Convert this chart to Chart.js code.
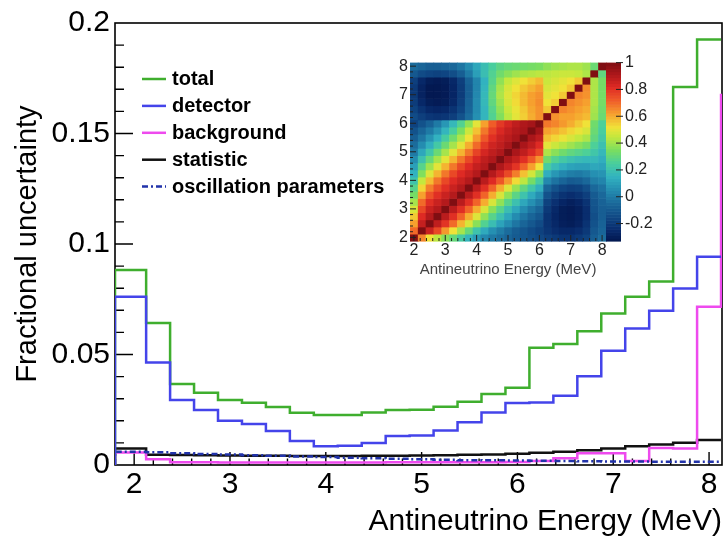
<!DOCTYPE html>
<html><head><meta charset="utf-8">
<script src="https://cdn.jsdelivr.net/npm/chart.js@4.4.1/dist/chart.umd.min.js"></script>
<style>
html,body{margin:0;padding:0;background:#fff;}
#wrap{position:relative;width:724px;height:538px;overflow:hidden;}
#main{position:absolute;left:0;top:0;}
#inset{position:absolute;left:370px;top:34px;}
</style>
</head><body>
<div id="wrap"><canvas id="main" width="724" height="538"></canvas><canvas id="inset" width="290" height="252"></canvas></div>
<script>
// ---------------- data ----------------
const binEdges = [1.8, 2.125, 2.375, 2.625, 2.875, 3.125, 3.375, 3.625, 3.875, 4.125, 4.375, 4.625, 4.875, 5.125, 5.375, 5.625, 5.875, 6.125, 6.375, 6.625, 6.875, 7.125, 7.375, 7.625, 7.875, 8.125];
const totalUnc = [0.0882, 0.0643, 0.0366, 0.0327, 0.0294, 0.0282, 0.0262, 0.0236, 0.0226, 0.0226, 0.0238, 0.0249, 0.0250, 0.0264, 0.0286, 0.0321, 0.0349, 0.0531, 0.0548, 0.0605, 0.0686, 0.0761, 0.0830, 0.1710, 0.1925];
const detectorUnc = [0.0761, 0.0464, 0.0294, 0.0249, 0.0200, 0.0185, 0.0154, 0.0109, 0.0085, 0.0087, 0.0099, 0.0131, 0.0133, 0.0156, 0.0194, 0.0238, 0.0280, 0.0283, 0.0313, 0.0402, 0.0517, 0.0618, 0.0698, 0.0799, 0.0942];
const backgroundUnc = [0.0056, 0.0026, 0.0012, 0.0012, 0.0011, 0.0011, 0.0011, 0.0011, 0.0011, 0.0011, 0.0011, 0.0012, 0.0012, 0.0012, 0.0013, 0.0013, 0.0014, 0.0018, 0.0030, 0.0053, 0.0053, 0.0018, 0.0077, 0.0075, 0.0716];
const backgroundEdgeTop = 0.168;
const statisticUnc = [0.0075, 0.0046, 0.0045, 0.0044, 0.0043, 0.0042, 0.0042, 0.0041, 0.0041, 0.0041, 0.0042, 0.0042, 0.0043, 0.0044, 0.0046, 0.0048, 0.0051, 0.0055, 0.0060, 0.0067, 0.0075, 0.0085, 0.0093, 0.0101, 0.0113];
const oscillationUnc = [0.0060, 0.0058, 0.0053, 0.0050, 0.0047, 0.0044, 0.0042, 0.0039, 0.0036, 0.0033, 0.0031, 0.0028, 0.0026, 0.0024, 0.0022, 0.0021, 0.0020, 0.0019, 0.0018, 0.0017, 0.0016, 0.0016, 0.0015, 0.0015, 0.0015];
const seriesLabels = ['total', 'detector', 'background', 'statistic', 'oscillation parameters'];

const xTickValues = [2, 3, 4, 5, 6, 7, 8];
const yTickValues = [0, 0.05, 0.1, 0.15, 0.2];
const yTickLabels = ['0', '0.05', '0.1', '0.15', '0.2'];

// inset correlation matrix: bin centres and rows (row 0 = lowest energy, bottom)
const matrixCenters = [2.0, 2.25, 2.5, 2.75, 3.0, 3.25, 3.5, 3.75, 4.0, 4.25, 4.5, 4.75, 5.0, 5.25, 5.5, 5.75, 6.0, 6.25, 6.5, 6.75, 7.0, 7.25, 7.5, 7.75, 8.0];
const corrRows = [
 [1.00, 0.66, 0.52, 0.44, 0.37, 0.31, 0.24, 0.16, 0.09, 0.04, 0.00, -0.03, -0.06, -0.09, -0.11, -0.13, -0.15, -0.18, -0.20, -0.22, -0.22, -0.20, -0.17, -0.08, -0.04],
 [0.70, 1.00, 0.86, 0.76, 0.63, 0.52, 0.41, 0.31, 0.21, 0.13, 0.06, 0.01, -0.04, -0.08, -0.11, -0.14, -0.17, -0.21, -0.24, -0.26, -0.26, -0.24, -0.20, -0.10, -0.06],
 [0.62, 0.87, 1.00, 0.88, 0.80, 0.70, 0.59, 0.48, 0.37, 0.27, 0.19, 0.11, 0.05, -0.01, -0.06, -0.10, -0.14, -0.22, -0.26, -0.29, -0.30, -0.28, -0.22, -0.12, -0.07],
 [0.56, 0.82, 0.90, 1.00, 0.89, 0.81, 0.71, 0.60, 0.49, 0.38, 0.28, 0.20, 0.12, 0.05, -0.01, -0.06, -0.10, -0.22, -0.27, -0.30, -0.31, -0.29, -0.24, -0.13, -0.08],
 [0.48, 0.76, 0.86, 0.90, 1.00, 0.89, 0.81, 0.71, 0.60, 0.48, 0.37, 0.28, 0.19, 0.12, 0.05, -0.01, -0.06, -0.20, -0.26, -0.30, -0.31, -0.29, -0.24, -0.12, -0.08],
 [0.41, 0.70, 0.81, 0.86, 0.90, 1.00, 0.89, 0.81, 0.71, 0.60, 0.48, 0.38, 0.28, 0.20, 0.12, 0.06, 0.00, -0.17, -0.23, -0.27, -0.29, -0.27, -0.22, -0.11, -0.07],
 [0.34, 0.62, 0.74, 0.81, 0.86, 0.90, 1.00, 0.89, 0.81, 0.71, 0.60, 0.48, 0.38, 0.29, 0.21, 0.13, 0.06, -0.12, -0.18, -0.22, -0.24, -0.22, -0.18, -0.09, -0.05],
 [0.28, 0.54, 0.67, 0.75, 0.81, 0.86, 0.90, 1.00, 0.89, 0.81, 0.71, 0.60, 0.49, 0.39, 0.30, 0.22, 0.14, -0.06, -0.12, -0.16, -0.18, -0.17, -0.13, -0.05, -0.02],
 [0.21, 0.45, 0.58, 0.68, 0.76, 0.82, 0.86, 0.90, 1.00, 0.89, 0.82, 0.73, 0.63, 0.53, 0.44, 0.34, 0.24, 0.04, -0.02, -0.06, -0.09, -0.08, -0.05, 0.01, 0.03],
 [0.15, 0.36, 0.49, 0.59, 0.68, 0.76, 0.82, 0.86, 0.90, 1.00, 0.90, 0.84, 0.76, 0.67, 0.57, 0.47, 0.37, 0.14, 0.08, 0.04, 0.01, 0.00, 0.02, 0.06, 0.07],
 [0.10, 0.28, 0.40, 0.50, 0.59, 0.68, 0.76, 0.82, 0.87, 0.90, 1.00, 0.91, 0.86, 0.80, 0.71, 0.62, 0.52, 0.24, 0.18, 0.14, 0.11, 0.10, 0.10, 0.12, 0.11],
 [0.05, 0.20, 0.31, 0.41, 0.50, 0.59, 0.68, 0.76, 0.83, 0.88, 0.91, 1.00, 0.91, 0.87, 0.81, 0.73, 0.64, 0.33, 0.27, 0.23, 0.20, 0.18, 0.17, 0.17, 0.14],
 [0.00, 0.12, 0.22, 0.32, 0.41, 0.50, 0.59, 0.68, 0.77, 0.84, 0.88, 0.91, 1.00, 0.92, 0.88, 0.83, 0.76, 0.42, 0.37, 0.33, 0.30, 0.28, 0.26, 0.22, 0.17],
 [-0.04, 0.05, 0.14, 0.23, 0.32, 0.41, 0.50, 0.60, 0.70, 0.79, 0.85, 0.88, 0.92, 1.00, 0.92, 0.88, 0.82, 0.50, 0.46, 0.43, 0.40, 0.37, 0.34, 0.26, 0.20],
 [-0.08, -0.01, 0.07, 0.15, 0.24, 0.33, 0.42, 0.52, 0.63, 0.73, 0.81, 0.86, 0.89, 0.92, 1.00, 0.92, 0.88, 0.57, 0.54, 0.51, 0.48, 0.45, 0.42, 0.30, 0.23],
 [-0.12, -0.06, 0.00, 0.07, 0.16, 0.25, 0.35, 0.46, 0.57, 0.68, 0.77, 0.83, 0.87, 0.90, 0.92, 1.00, 0.93, 0.62, 0.60, 0.57, 0.54, 0.51, 0.48, 0.32, 0.25],
 [-0.17, -0.12, -0.07, 0.00, 0.08, 0.17, 0.27, 0.38, 0.50, 0.62, 0.72, 0.79, 0.84, 0.88, 0.91, 0.93, 1.00, 0.68, 0.66, 0.63, 0.60, 0.56, 0.52, 0.33, 0.26],
 [-0.14, -0.18, -0.21, -0.22, -0.21, -0.18, -0.12, -0.04, 0.06, 0.16, 0.27, 0.36, 0.44, 0.50, 0.55, 0.60, 0.64, 1.00, 0.64, 0.62, 0.62, 0.60, 0.58, 0.40, 0.32],
 [-0.17, -0.22, -0.26, -0.27, -0.26, -0.22, -0.16, -0.06, 0.05, 0.16, 0.28, 0.38, 0.46, 0.51, 0.56, 0.61, 0.64, 0.56, 1.00, 0.66, 0.64, 0.62, 0.60, 0.41, 0.33],
 [-0.19, -0.26, -0.30, -0.31, -0.30, -0.26, -0.18, -0.07, 0.05, 0.17, 0.30, 0.40, 0.48, 0.53, 0.58, 0.62, 0.65, 0.52, 0.55, 1.00, 0.66, 0.64, 0.62, 0.42, 0.34],
 [-0.20, -0.28, -0.32, -0.32, -0.31, -0.27, -0.19, -0.08, 0.04, 0.17, 0.31, 0.42, 0.49, 0.54, 0.58, 0.62, 0.64, 0.50, 0.52, 0.56, 1.00, 0.66, 0.64, 0.42, 0.34],
 [-0.20, -0.28, -0.32, -0.32, -0.31, -0.27, -0.19, -0.08, 0.03, 0.16, 0.30, 0.41, 0.48, 0.52, 0.56, 0.59, 0.62, 0.48, 0.50, 0.52, 0.56, 1.00, 0.65, 0.42, 0.34],
 [-0.18, -0.26, -0.30, -0.31, -0.30, -0.26, -0.18, -0.07, 0.03, 0.15, 0.28, 0.38, 0.45, 0.49, 0.52, 0.55, 0.58, 0.46, 0.48, 0.50, 0.52, 0.56, 1.00, 0.42, 0.34],
 [-0.10, -0.14, -0.16, -0.17, -0.16, -0.13, -0.08, 0.00, 0.10, 0.19, 0.27, 0.33, 0.37, 0.40, 0.42, 0.43, 0.44, 0.44, 0.45, 0.46, 0.46, 0.45, 0.42, 1.00, 0.30],
 [-0.04, -0.06, -0.08, -0.08, -0.07, -0.05, -0.01, 0.05, 0.12, 0.19, 0.25, 0.29, 0.31, 0.32, 0.33, 0.34, 0.35, 0.38, 0.40, 0.41, 0.42, 0.42, 0.40, 0.32, 1.00]
];
const cbTickValues = [-0.2, 0, 0.2, 0.4, 0.6, 0.8, 1];
const cbTickLabels = ['-0.2', '0', '0.2', '0.4', '0.6', '0.8', '1'];
const insetTitle = 'Antineutrino Energy (MeV)';

// ---------------- style ----------------
const FONT = "'Liberation Sans', Arial, Helvetica, sans-serif";
Chart.defaults.font.family = FONT;
Chart.defaults.color = '#000';
const cellHalf = 0.125;
const cbMin = -0.33, cbMax = 1.0;
const cmapStops = [
 [-0.33, [2, 22, 78]], [-0.25, [8, 42, 108]], [-0.15, [16, 72, 132]], [-0.05, [26, 104, 154]],
 [0.05, [36, 140, 176]], [0.15, [50, 178, 192]], [0.25, [72, 206, 158]], [0.35, [122, 222, 96]],
 [0.45, [196, 232, 62]], [0.52, [240, 226, 56]], [0.62, [246, 160, 46]], [0.72, [240, 92, 40]],
 [0.82, [222, 42, 36]], [0.92, [170, 22, 26]], [1.0, [128, 14, 18]]
];
function cmap(v) {
  if (v <= cmapStops[0][0]) return 'rgb(' + cmapStops[0][1].join(',') + ')';
  for (let i = 1; i < cmapStops.length; i++) {
    if (v <= cmapStops[i][0]) {
      const [v0, c0] = cmapStops[i - 1], [v1, c1] = cmapStops[i];
      const t = (v - v0) / (v1 - v0);
      return 'rgb(' + c0.map((c, k) => Math.round(c + (c1[k] - c) * t)).join(',') + ')';
    }
  }
  return 'rgb(' + cmapStops[cmapStops.length - 1][1].join(',') + ')';
}

function stepData(vals, extraTop) {
  const pts = [{x: binEdges[0], y: 0}];
  vals.forEach((v, i) => pts.push({x: binEdges[i], y: v}));
  pts.push({x: binEdges[binEdges.length - 1], y: vals[vals.length - 1]});
  if (extraTop !== undefined) pts.push({x: binEdges[binEdges.length - 1], y: extraTop});
  return pts;
}

// ---------------- main chart ----------------
const rootFrame = {
  id: 'rootFrame',
  beforeDatasetsDraw(chart) {
    const {ctx, chartArea: a, scales: {x, y}} = chart;
    ctx.save();
    ctx.strokeStyle = '#000';
    ctx.lineWidth = 1.4;
    ctx.beginPath();
    for (let k = 1; k <= 31; k++) {
      const v = 1.8 + 0.2 * k;
      const major = Math.abs(v - Math.round(v)) < 1e-6;
      const px = x.getPixelForValue(v);
      ctx.moveTo(px, a.bottom);
      ctx.lineTo(px, a.bottom - (major ? 13 : 6.5));
    }
    for (let k = 1; k <= 19; k++) {
      const py = y.getPixelForValue(0.01 * k);
      ctx.moveTo(a.left, py);
      ctx.lineTo(a.left + (k % 5 === 0 ? 18 : 9), py);
    }
    ctx.stroke();
    ctx.lineWidth = 1.6;
    ctx.strokeRect(a.left, a.top, a.right - a.left, a.bottom - a.top);
    ctx.restore();
  }
};
const rootLegend = {
  id: 'rootLegend',
  afterDatasetsDraw(chart) {
    const ctx = chart.ctx;
    ctx.save();
    chart.data.datasets.forEach((ds, i) => {
      const yy = 79 + i * 26.9;
      ctx.strokeStyle = ds.borderColor;
      ctx.lineWidth = ds.borderWidth;
      ctx.setLineDash(ds.borderDash || []);
      ctx.beginPath();
      ctx.moveTo(142, yy);
      ctx.lineTo(166, yy);
      ctx.stroke();
      ctx.setLineDash([]);
      ctx.fillStyle = '#000';
      ctx.font = 'bold 20px ' + FONT;
      ctx.textBaseline = 'alphabetic';
      ctx.textAlign = 'left';
      ctx.fillText(ds.label, 172, yy + 6);
    });
    ctx.restore();
  }
};

const lineCommon = {pointRadius: 0, borderWidth: 2.5, stepped: 'before', fill: false, tension: 0, borderJoinStyle: 'miter', borderCapStyle: 'butt'};
new Chart(document.getElementById('main'), {
  type: 'line',
  data: {
    datasets: [
      Object.assign({label: seriesLabels[0], data: stepData(totalUnc), borderColor: '#3fae2e', order: 1}, lineCommon),
      Object.assign({label: seriesLabels[1], data: stepData(detectorUnc), borderColor: '#4444ea', order: 0}, lineCommon),
      Object.assign({label: seriesLabels[2], data: stepData(backgroundUnc, backgroundEdgeTop), borderColor: '#ee4aee', order: 3}, lineCommon),
      Object.assign({label: seriesLabels[3], data: stepData(statisticUnc), borderColor: '#111111', order: 4}, lineCommon),
      Object.assign({label: seriesLabels[4], data: stepData(oscillationUnc), borderColor: '#2233aa', borderDash: [6, 3, 2, 3], order: 2}, lineCommon)
    ]
  },
  options: {
    responsive: false, animation: false, devicePixelRatio: 1, events: [],
    layout: {padding: {top: 22, right: 2, left: 0, bottom: 0}, autoPadding: false},
    plugins: {legend: {display: false}, tooltip: {enabled: false}},
    scales: {
      x: {
        type: 'linear', min: 1.8, max: 8.135,
        afterBuildTicks: s => { s.ticks = xTickValues.map(v => ({value: v})); },
        afterFit: s => { s.height = 73; },
        ticks: {autoSkip: false, maxRotation: 0, padding: 2, font: {size: 30}, color: '#000', callback: v => String(v)},
        grid: {display: false, drawTicks: false},
        border: {display: false},
        title: {display: true, text: 'Antineutrino Energy (MeV)', align: 'end', font: {size: 30, lineHeight: 1}, color: '#000', padding: {top: 0, bottom: 1.5}}
      },
      y: {
        type: 'linear', min: 0, max: 0.2,
        afterBuildTicks: s => { s.ticks = yTickValues.map(v => ({value: v})); },
        afterFit: s => { s.width = 115; },
        ticks: {padding: 5, font: {size: 30}, color: '#000', callback: (v, i) => yTickLabels[i]},
        grid: {display: false, drawTicks: false},
        border: {display: false},
        title: {display: true, text: 'Fractional uncertainty', font: {size: 29, lineHeight: 1}, color: '#000', padding: {top: 13, bottom: 0}}
      }
    }
  },
  plugins: [rootFrame, rootLegend]
});

// ---------------- inset matrix ----------------
const cells = [];
corrRows.forEach((row, r) => row.forEach((v, c) => cells.push({x: matrixCenters[c], y: matrixCenters[r], v: v})));

const matrixPlugin = {
  id: 'matrixCells',
  beforeDatasetsDraw(chart) {
    const {ctx, chartArea: a, scales: {x, y, yc}} = chart;
    ctx.save();
    chart.data.datasets[0].data.forEach(d => {
      const x0 = x.getPixelForValue(d.x - cellHalf), x1 = x.getPixelForValue(d.x + cellHalf);
      const y0 = y.getPixelForValue(d.y + cellHalf), y1 = y.getPixelForValue(d.y - cellHalf);
      ctx.fillStyle = cmap(d.v);
      ctx.fillRect(x0, y0, x1 - x0 + 0.6, y1 - y0 + 0.6);
    });
    // colour bar
    const N = 60, cbL = a.right, cbW = 15;
    for (let k = 0; k < N; k++) {
      const v0 = cbMin + (cbMax - cbMin) * k / N, v1 = cbMin + (cbMax - cbMin) * (k + 1) / N;
      const p0 = yc.getPixelForValue(v0), p1 = yc.getPixelForValue(v1);
      ctx.fillStyle = cmap((v0 + v1) / 2);
      ctx.fillRect(cbL, p1, cbW, p0 - p1 + 0.6);
    }
    ctx.strokeStyle = '#222';
    ctx.lineWidth = 1;
    ctx.beginPath();
    cbTickValues.forEach(v => {
      const p = yc.getPixelForValue(v);
      ctx.moveTo(cbL + 10, p); ctx.lineTo(cbL + 17, p);
    });
    for (let k = 1; k <= 31; k++) {
      const v = 1.8 + 0.2 * k;
      const major = Math.abs(v - Math.round(v)) < 1e-6;
      const px = x.getPixelForValue(v), py = y.getPixelForValue(v);
      ctx.moveTo(px, a.bottom); ctx.lineTo(px, a.bottom - (major ? 6 : 3));
      ctx.moveTo(a.left, py); ctx.lineTo(a.left + (major ? 6 : 3), py);
    }
    ctx.stroke();
    ctx.restore();
  }
};

new Chart(document.getElementById('inset'), {
  type: 'scatter',
  data: {datasets: [{data: cells, pointRadius: 0, pointHoverRadius: 0}]},
  options: {
    responsive: false, animation: false, devicePixelRatio: 1, events: [],
    layout: {padding: {top: 10, right: 0, left: 0, bottom: 0}, autoPadding: false},
    plugins: {legend: {display: false}, tooltip: {enabled: false}},
    scales: {
      x: {
        type: 'linear', min: 1.875, max: 8.125,
        afterBuildTicks: s => { s.ticks = xTickValues.map(v => ({value: v})); },
        afterFit: s => { s.height = 45; },
        ticks: {autoSkip: false, maxRotation: 0, padding: 0, font: {size: 16}, color: '#222', callback: v => String(v)},
        grid: {display: false, drawTicks: false},
        border: {display: false},
        title: {display: true, text: insetTitle, font: {size: 15, lineHeight: 1}, color: '#444', padding: {top: 0, bottom: 8.5}}
      },
      y: {
        type: 'linear', position: 'left', min: 1.875, max: 8.125,
        afterBuildTicks: s => { s.ticks = xTickValues.map(v => ({value: v})); },
        afterFit: s => { s.width = 40; },
        ticks: {padding: 2, font: {size: 16}, color: '#222', callback: v => String(v)},
        grid: {display: false, drawTicks: false},
        border: {display: false}
      },
      yc: {
        type: 'linear', position: 'right', min: cbMin, max: cbMax,
        afterBuildTicks: s => { s.ticks = cbTickValues.map(v => ({value: v})); },
        afterFit: s => { s.width = 54; },
        ticks: {padding: 19, font: {size: 16}, color: '#222', callback: (v, i) => cbTickLabels[i]},
        grid: {display: false, drawTicks: false},
        border: {display: false}
      }
    }
  },
  plugins: [matrixPlugin]
});
</script>
</body></html>
